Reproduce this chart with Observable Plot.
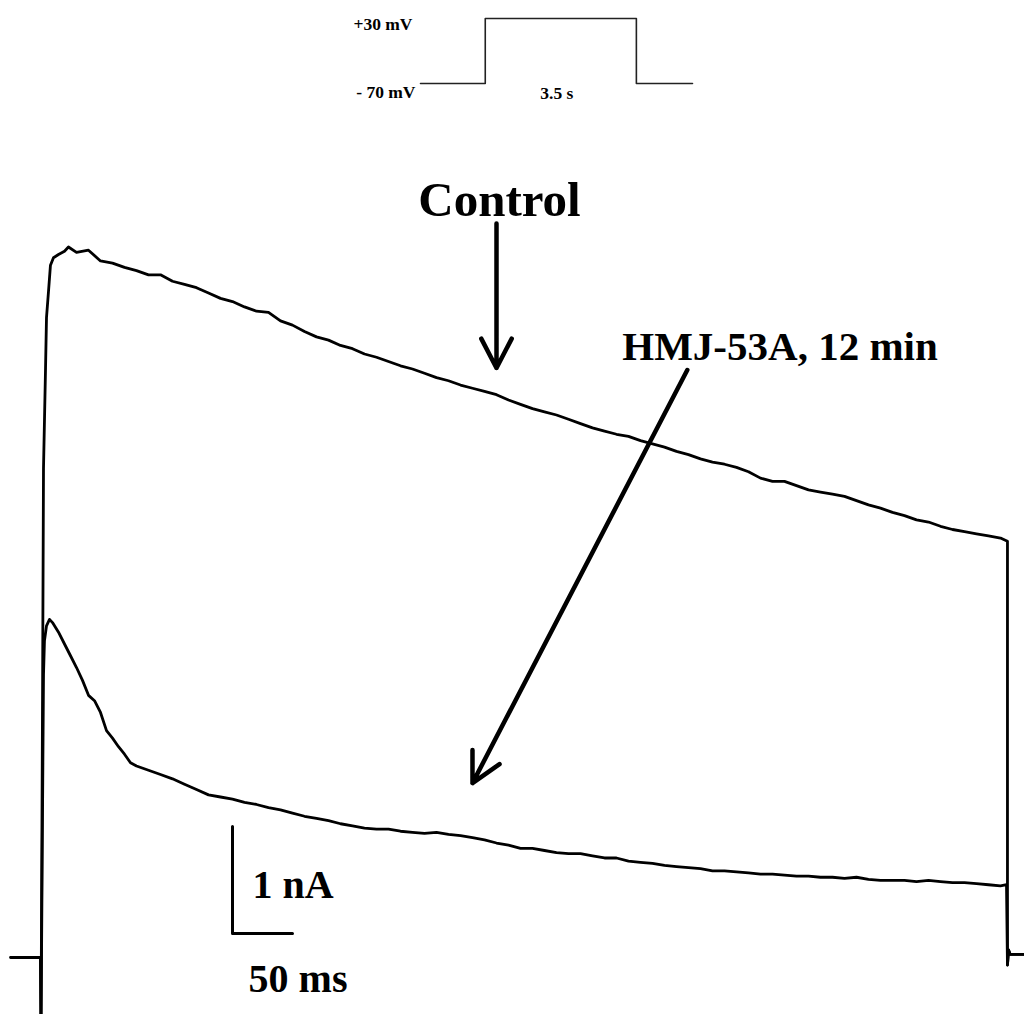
<!DOCTYPE html>
<html><head><meta charset="utf-8">
<script src="https://cdn.jsdelivr.net/npm/d3@7"></script>
<script src="https://cdn.jsdelivr.net/npm/@observablehq/plot@0.6"></script>
<style>
body{margin:0;background:#fff;}
#wrap{position:relative;width:1024px;height:1014px;overflow:hidden;background:#fff;}
#main{position:absolute;left:0;top:0;}
#inset{position:absolute;left:340px;top:0;}
</style></head><body><div id="wrap"><div id="main"></div><div id="inset"></div></div>
<script>
// Control trace: time (ms) and current (nA)
const controlTime = [-25, 0, 0.4, 1.7, 2.5, 4.2, 5.0, 6.7, 8.3, 10.8, 15, 20, 23.3, 30, 40,
  50, 60, 70, 80, 90, 100, 110, 120, 130, 140, 150, 160, 170, 180, 190,
  200, 210, 220, 230, 240, 250, 260, 270, 280, 290, 300, 310, 320, 330, 340,
  350, 360, 370, 380, 390, 400, 410, 420, 430, 440, 450, 460, 470, 480, 490,
  500, 510, 520, 530, 540, 550, 560, 570, 580, 590, 600, 610, 620, 630, 640,
  650, 660, 670, 680, 690, 700, 710, 720, 730, 740, 750, 760, 770, 780, 790,
  800, 805.8, 805.8, 806.7, 808, 820];
const controlCurrent = [0, 0, -0.7, 2.40, 4.57, 5.51, 5.98, 6.23, 6.47, 6.54, 6.57, 6.60, 6.64, 6.59, 6.61,
  6.51, 6.49, 6.45, 6.42, 6.38, 6.38, 6.32, 6.29, 6.26, 6.21, 6.16, 6.13, 6.08, 6.04, 6.03,
  5.95, 5.91, 5.85, 5.80, 5.77, 5.72, 5.69, 5.64, 5.61, 5.57, 5.53, 5.50, 5.46, 5.42, 5.39,
  5.35, 5.32, 5.29, 5.26, 5.21, 5.17, 5.13, 5.10, 5.07, 5.03, 4.99, 4.95, 4.92, 4.89, 4.87,
  4.83, 4.80, 4.77, 4.73, 4.70, 4.66, 4.63, 4.61, 4.58, 4.54, 4.48, 4.45, 4.45, 4.41, 4.37,
  4.35, 4.33, 4.31, 4.27, 4.23, 4.20, 4.16, 4.13, 4.09, 4.07, 4.03, 4.00, 3.98, 3.96, 3.94,
  3.92, 3.89, -0.07, 0.07, 0.03, 0.03];

// HMJ-53A, 12 min trace: time (ms) and current (nA)
const hmjTime = [0, 0.4, 2.5, 3.3, 5, 7.5, 10, 15, 20, 25, 30, 35, 40, 45, 50, 55, 60, 65, 70, 75, 80,
  90, 100, 110, 120, 130, 140, 150, 160, 170, 180, 190,
  200, 210, 220, 230, 240, 250, 260, 270, 280, 290, 300, 310, 320, 330, 340,
  350, 360, 370, 380, 390, 400, 410, 420, 430, 440, 450, 460, 470, 480, 490,
  500, 510, 520, 530, 540, 550, 560, 570, 580, 590, 600, 610, 620, 630, 640,
  650, 660, 670, 680, 690, 700, 710, 720, 730, 740, 750, 760, 770, 780, 790,
  800, 805, 805.8, 806.7, 808, 820];
const hmjCurrent = [0, -0.7, 2.64, 2.96, 3.10, 3.16, 3.13, 3.04, 2.93, 2.82, 2.71, 2.59, 2.45, 2.40, 2.29, 2.12, 2.05, 1.97, 1.90, 1.82, 1.79,
  1.75, 1.71, 1.67, 1.62, 1.57, 1.52, 1.50, 1.48, 1.45, 1.43, 1.40,
  1.38, 1.35, 1.32, 1.30, 1.28, 1.25, 1.23, 1.21, 1.20, 1.20, 1.18, 1.17, 1.16, 1.17, 1.15,
  1.14, 1.12, 1.10, 1.07, 1.05, 1.02, 1.02, 1.00, 0.98, 0.97, 0.97, 0.95, 0.93, 0.93, 0.90,
  0.89, 0.88, 0.86, 0.85, 0.84, 0.83, 0.81, 0.81, 0.80, 0.79, 0.78, 0.78, 0.77, 0.76, 0.76,
  0.75, 0.75, 0.74, 0.75, 0.73, 0.72, 0.72, 0.72, 0.71, 0.72, 0.71, 0.70, 0.70, 0.69, 0.68,
  0.67, 0.68, -0.07, 0.07, 0.03, 0.03];

// Scale bar (ms, nA)
const scaleBarTimeLength = 50;
const scaleBarCurrentLength = 1;
const scaleBarLabels = ["1 nA", "50 ms"];

// Trace labels
const traceLabels = ["Control", "HMJ-53A, 12 min"];

// Voltage protocol inset: time (s), voltage (mV)
const protocolTime = [-1.5, 0, 0, 3.5, 3.5, 4.8];
const protocolVoltage = [-70, -70, 30, 30, -70, -70];
const protocolLabels = ["+30 mV", "- 70 mV", "3.5 s"];

const control = controlTime.map((t, i) => ({t, I: controlCurrent[i]}));
const hmj = hmjTime.map((t, i) => ({t, I: hmjCurrent[i]}));
const protocol = protocolTime.map((t, i) => ({t, v: protocolVoltage[i]}));

const serif = "'Liberation Serif', 'Times New Roman', serif";

// scale bar geometry (data units)
const sbT0 = 160, sbI0 = 0.224;
const scaleBar = [
  {t: sbT0, I: sbI0 + scaleBarCurrentLength},
  {t: sbT0, I: sbI0},
  {t: sbT0 + scaleBarTimeLength, I: sbI0}
];

const main = Plot.plot({
  width: 1024,
  height: 1014,
  margin: 0,
  style: {background: "white"},
  x: {domain: [-33.333, 820], axis: null},
  y: {domain: [-0.53271, 8.94393], axis: null},
  marks: [
    Plot.line(control, {x: "t", y: "I", stroke: "black", strokeWidth: 2.8, clip: true}),
    Plot.line(hmj, {x: "t", y: "I", stroke: "black", strokeWidth: 2.8, clip: true}),
    Plot.line(scaleBar, {x: "t", y: "I", stroke: "black", strokeWidth: 3}),
    Plot.text([scaleBarLabels[0]], {x: 210.4, y: 0.673, text: d => d, fontFamily: serif, fontWeight: "bold", fontSize: 40, fill: "black"}),
    Plot.text([scaleBarLabels[1]], {x: 214.6, y: -0.201, text: d => d, fontFamily: serif, fontWeight: "bold", fontSize: 40, fill: "black"}),
    Plot.text([traceLabels[0]], {x: 382.5, y: 7.075, text: d => d, fontFamily: serif, fontWeight: "bold", fontSize: 49, fill: "black"}),
    Plot.text([traceLabels[1]], {x: 616.25, y: 5.706, text: d => d, fontFamily: serif, fontWeight: "bold", fontSize: 41, fill: "black"}),
    Plot.arrow([{x1: 380, y1: 6.86, x2: 380, y2: 5.51}], {x1: "x1", y1: "y1", x2: "x2", y2: "y2", stroke: "black", strokeWidth: 4.5, headLength: 11, headAngle: 55}),
    Plot.arrow([{x1: 539, y1: 5.49, x2: 360, y2: 1.63}], {x1: "x1", y1: "y1", x2: "x2", y2: "y2", stroke: "black", strokeWidth: 4.5, headLength: 11, headAngle: 55})
  ]
});
document.getElementById("main").appendChild(main);

const inset = Plot.plot({
  width: 360,
  height: 110,
  marginLeft: 80,
  marginRight: 8,
  marginTop: 18,
  marginBottom: 27,
  style: {background: "white", overflow: "visible"},
  x: {domain: [-1.5, 4.8], axis: null},
  y: {domain: [-70, 30], axis: null},
  marks: [
    Plot.line(protocol, {x: "t", y: "v", stroke: "#222", strokeWidth: 1.6}),
    Plot.text([protocolLabels[0]], {x: -1.5, y: 30, text: d => d, textAnchor: "end", dx: -8, dy: 5.5, fontFamily: serif, fontWeight: "bold", fontSize: 17.5, fill: "black"}),
    Plot.text([protocolLabels[1]], {x: -1.5, y: -70, text: d => d, textAnchor: "end", dx: -5, dy: 9, fontFamily: serif, fontWeight: "bold", fontSize: 17.5, fill: "black"}),
    Plot.text([protocolLabels[2]], {x: 1.75, y: -70, text: d => d, dx: -4, dy: 9.5, fontFamily: serif, fontWeight: "bold", fontSize: 17.5, fill: "black"})
  ]
});
document.getElementById("inset").appendChild(inset);
</script>
</body></html>
